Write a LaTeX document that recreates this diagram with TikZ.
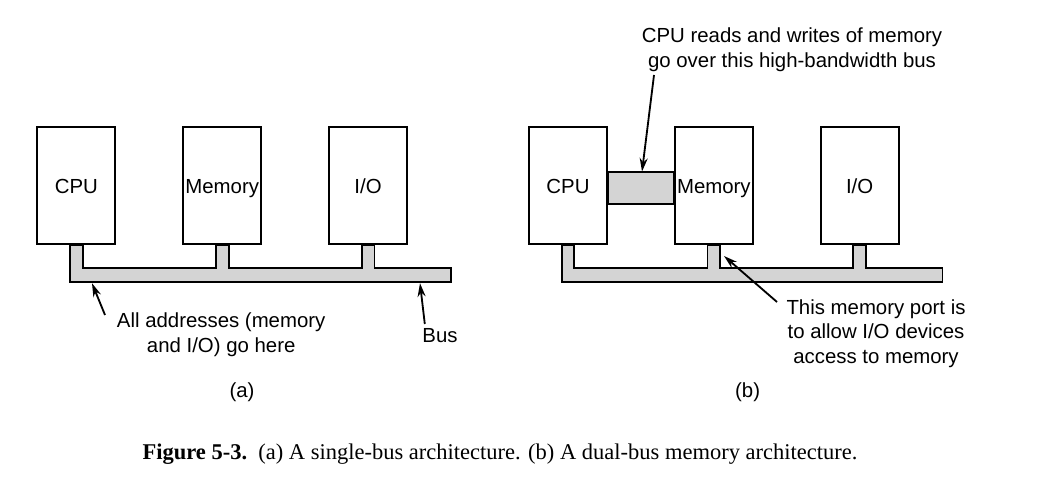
\documentclass[tikz,border=0pt]{standalone}
\usepackage{fontspec}
\setmainfont{Liberation Sans}
\newfontfamily\capfont{Liberation Serif}
\usetikzlibrary{arrows.meta,positioning,calc}
\definecolor{busgray}{gray}{0.83}
\tikzstyle{box}=[rectangle,fill=white,minimum width=1.95cm,minimum height=2.925cm,inner sep=0pt,line width=1.3pt,draw=black,text height=14.5pt,text depth=3pt,font=\fontsize{14.5}{17.5}\selectfont]
\tikzstyle{annot} = [align=center,inner sep=0pt,font=\fontsize{14.5}{17.6}\selectfont]
\tikzstyle{bus}=[fill=busgray,draw=black,line width=1.3pt]
\tikzstyle{arr}=[-{Stealth[length=0.34cm,width=0.2cm]},line width=1.3pt]
\newcommand{\drawbus}[3]
{
  \path[bus] let \p1 = (#1.south), \p2 = (#2.south), \p3 = (#3.south) in
    (\x1-0.16cm,\y1) -- (\x1-0.16cm,\y1-0.925cm) -- (\x3+2.07cm,\y1-0.925cm) -- (\x3+2.07cm,\y1-0.575cm)
    -- (\x3+0.16cm,\y1-0.575cm) -- (\x3+0.16cm,\y1) -- (\x3-0.16cm,\y1) -- (\x3-0.16cm,\y1-0.575cm)
    -- (\x2+0.16cm,\y1-0.575cm) -- (\x2+0.16cm,\y1) -- (\x2-0.16cm,\y1) -- (\x2-0.16cm,\y1-0.575cm)
    -- (\x1+0.16cm,\y1-0.575cm) -- (\x1+0.16cm,\y1) -- cycle;
}
\begin{document}
\begin{tikzpicture}
	\useasboundingbox (0,0) rectangle (26.05,12.55);

	% (a) single bus
	\node[box](cpu1) at (1.91,7.91){CPU};
	\node[box, right=1.65cm of cpu1](mem1){Memory};
	\node[box, right=1.65cm of mem1](io1){I/O};
	\drawbus{cpu1}{mem1}{io1}

	% (b) dual bus
	\node[box](cpu2) at (14.2,7.91){CPU};
	\node[box, right=1.65cm of cpu2](mem2){Memory};
	\node[box, right=1.65cm of mem2](io2){I/O};
	\drawbus{cpu2}{mem2}{io2}
	\draw[bus] ([yshift=-1.15cm]cpu2.north east) rectangle ([yshift=-1.95cm]mem2.north west);

	% labels
	\node[annot](addr) at (5.53,4.19){All addresses (memory\\and I/O) go here};
	\node[annot](buslbl) at (11.0,4.17){Bus};
	\node[annot](capa) at (6.05,2.75){(a)};
	\node[annot](fast) at (19.8,11.31){CPU reads and writes of memory\\go over this high-bandwidth bus};
	\node[annot](port) at (21.9,4.21){This memory port is\\to allow I/O devices\\access to memory};
	\node[annot](capb) at (18.69,2.75){(b)};
	\node[annot, font=\capfont\fontsize{16}{18}\selectfont](fig) at (12.5,1.2){\textbf{Figure 5-3.}\hspace{0.5em}(a) A single-bus architecture. (b) A dual-bus memory architecture.};

	% arrows
	\coordinate (addrtail) at (2.625,4.675);
	\coordinate (addrtip) at (2.3,5.47);
	\coordinate (bustail) at (10.62,4.45);
	\coordinate (bustip) at (10.5,5.47);
	\coordinate (fasttail) at (16.35,10.675);
	\coordinate (fasttip) at (16.05,8.26);
	\coordinate (porttail) at (19.425,5.0);
	\coordinate (porttip) at (18.1,6.15);
	\draw[arr] (addrtail) -- (addrtip);
	\draw[arr] (bustail) -- (bustip);
	\draw[arr] (fasttail) -- (fasttip);
	\draw[arr] (porttail) -- (porttip);

\end{tikzpicture}
\end{document}
